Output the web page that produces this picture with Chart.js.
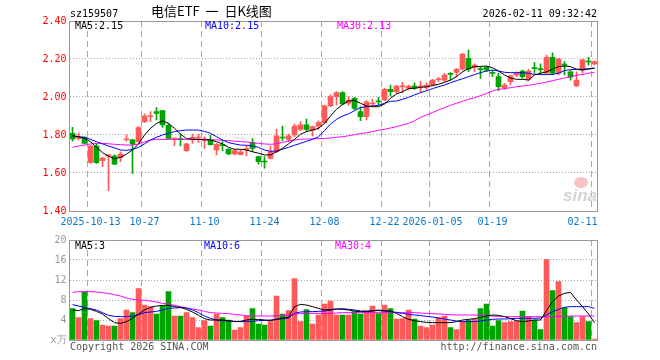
<!DOCTYPE html>
<html><head><meta charset="utf-8">
<script src="https://cdn.jsdelivr.net/npm/chart.js@4/dist/chart.umd.min.js"></script>
<style>
html,body{margin:0;padding:0;background:#fff;}
#wrap{position:relative;width:660px;height:360px;overflow:hidden;font-family:"DejaVu Sans Mono",monospace;font-size:10px;color:#000;}
.t{position:absolute;white-space:pre;line-height:12px;}
canvas{position:absolute;left:0;}
</style></head><body>
<div id="wrap">
<canvas id="pc" width="660" height="235" style="top:0px"></canvas>
<canvas id="vc" width="660" height="132" style="top:228px"></canvas>
<div class="t" style="left:70px;top:8px">sz159507</div>
<div class="t" style="left:151px;top:3px;font-family:'Noto Sans CJK SC';font-size:13px;line-height:16px;word-spacing:3px">电信ETF 一 日K线图</div>
<div class="t" style="right:63px;top:8px">2026-02-11 09:32:42</div>
<div class="t" style="left:75px;top:20px;color:#000">MA5:2.15</div>
<div class="t" style="left:205px;top:20px;color:#0000ff">MA10:2.15</div>
<div class="t" style="left:337px;top:20px;color:#ff00ff">MA30:2.13</div>
<div class="t" style="left:75px;top:240px;color:#000">MA5:3</div>
<div class="t" style="left:204px;top:240px;color:#0000ff">MA10:6</div>
<div class="t" style="left:335px;top:240px;color:#ff00ff">MA30:4</div>
<div class="t" style="left:70px;top:341px;color:#555">Copyright 2026 SINA.COM</div>
<div class="t" style="right:63px;top:341px;color:#555">http://finance.sina.com.cn</div>
<div style="position:absolute;left:574px;top:177px;width:14px;height:11px;border-radius:50%;background:#f6c4c4;"></div>
<div class="t" style="left:563px;top:187px;font-family:'Liberation Sans';font-style:italic;font-weight:bold;font-size:17px;line-height:18px;color:#d4d4d4">sina</div>
</div>
<script>
const dates = ['2025-09-30','2025-10-09','2025-10-10','2025-10-13','2025-10-14','2025-10-15','2025-10-16','2025-10-20','2025-10-21','2025-10-22',
'2025-10-23','2025-10-24','2025-10-27','2025-10-28','2025-10-29','2025-10-30','2025-10-31','2025-11-03','2025-11-04','2025-11-05',
'2025-11-06','2025-11-07','2025-11-10','2025-11-11','2025-11-12','2025-11-13','2025-11-14','2025-11-17','2025-11-18','2025-11-19',
'2025-11-20','2025-11-21','2025-11-24','2025-11-25','2025-11-26','2025-11-27','2025-11-28','2025-12-01','2025-12-02','2025-12-03',
'2025-12-04','2025-12-05','2025-12-08','2025-12-09','2025-12-10','2025-12-11','2025-12-12','2025-12-15','2025-12-16','2025-12-17',
'2025-12-18','2025-12-19','2025-12-22','2025-12-23','2025-12-24','2025-12-25','2025-12-26','2025-12-29','2025-12-30','2025-12-31',
'2026-01-05','2026-01-06','2026-01-07','2026-01-08','2026-01-09','2026-01-12','2026-01-13','2026-01-14','2026-01-15','2026-01-16',
'2026-01-19','2026-01-20','2026-01-21','2026-01-22','2026-01-23','2026-01-26','2026-01-27','2026-01-28','2026-01-29','2026-01-30',
'2026-02-02','2026-02-03','2026-02-04','2026-02-05','2026-02-06','2026-02-09','2026-02-10','2026-02-11'];

const openP = [1.809,1.782,1.788,1.656,1.742,1.665,1.688,1.689,1.682,1.775,
1.774,1.765,1.870,1.896,1.923,1.928,1.851,1.779,1.781,1.718,
1.774,1.784,1.774,1.774,1.721,1.749,1.725,1.700,1.696,1.721,
1.760,1.686,1.662,1.677,1.712,1.788,1.777,1.800,1.830,1.853,
1.826,1.847,1.865,1.953,2.002,2.023,1.967,1.993,1.923,1.896,
1.963,1.977,1.984,2.040,2.028,2.053,2.046,2.058,2.053,2.051,
2.063,2.091,2.089,2.123,2.130,2.146,2.204,2.156,2.147,2.156,
2.126,2.107,2.046,2.081,2.116,2.137,2.093,2.151,2.147,2.125,
2.209,2.125,2.170,2.133,2.058,2.142,2.186,2.174];
const highP = [1.840,1.812,1.791,1.745,1.753,1.682,1.697,1.695,1.711,1.800,
1.777,1.844,1.911,1.923,1.944,1.928,1.861,1.785,1.805,1.756,
1.805,1.803,1.791,1.800,1.756,1.765,1.728,1.725,1.721,1.742,
1.781,1.689,1.686,1.742,1.830,1.847,1.805,1.858,1.870,1.884,
1.847,1.875,1.958,2.011,2.028,2.028,2.002,1.998,1.949,1.981,
1.988,1.998,2.046,2.063,2.061,2.077,2.063,2.075,2.081,2.075,
2.093,2.104,2.125,2.128,2.151,2.230,2.247,2.174,2.160,2.160,
2.139,2.125,2.072,2.116,2.133,2.142,2.146,2.181,2.174,2.221,
2.233,2.204,2.186,2.139,2.133,2.198,2.209,2.191];
const lowP = [1.768,1.774,1.753,1.651,1.651,1.633,1.507,1.644,1.660,1.768,
1.598,1.761,1.865,1.870,1.879,1.840,1.779,1.744,1.742,1.714,
1.756,1.760,1.730,1.746,1.695,1.718,1.696,1.695,1.695,1.690,
1.712,1.647,1.625,1.674,1.707,1.770,1.765,1.791,1.823,1.818,
1.795,1.830,1.861,1.949,1.958,1.958,1.956,1.932,1.875,1.879,
1.949,1.958,1.981,2.005,2.019,2.023,2.037,2.040,2.028,2.040,
2.058,2.081,2.081,2.089,2.107,2.142,2.133,2.133,2.098,2.133,
2.107,2.033,2.040,2.063,2.107,2.098,2.086,2.125,2.121,2.121,
2.116,2.116,2.116,2.089,2.054,2.125,2.168,2.168];
const closeP = [1.779,1.786,1.756,1.742,1.654,1.679,1.695,1.647,1.700,1.778,
1.753,1.839,1.900,1.898,1.914,1.853,1.782,1.782,1.775,1.753,
1.788,1.786,1.779,1.749,1.751,1.744,1.700,1.718,1.711,1.728,
1.730,1.660,1.658,1.712,1.795,1.784,1.795,1.847,1.853,1.830,
1.844,1.865,1.953,2.002,2.023,1.963,1.984,1.940,1.896,1.975,
1.967,1.974,2.040,2.028,2.058,2.056,2.058,2.046,2.056,2.063,
2.089,2.093,2.116,2.119,2.146,2.226,2.146,2.168,2.144,2.142,
2.124,2.054,2.063,2.111,2.128,2.107,2.137,2.149,2.144,2.209,
2.125,2.200,2.168,2.104,2.089,2.195,2.184,2.186];

const ma5P = [1.797,1.791,1.782,1.765,1.735,1.707,1.689,1.675,1.682,1.700,
1.721,1.753,1.800,1.835,1.861,1.874,1.861,1.835,1.805,1.781,
1.777,1.777,1.774,1.774,1.765,1.753,1.735,1.725,1.725,1.721,
1.712,1.704,1.695,1.695,1.712,1.730,1.753,1.777,1.804,1.818,
1.826,1.835,1.861,1.900,1.935,1.961,1.979,1.982,1.967,1.953,
1.949,1.949,1.963,1.993,2.016,2.028,2.044,2.046,2.051,2.054,
2.060,2.067,2.077,2.089,2.107,2.133,2.149,2.160,2.161,2.163,
2.154,2.137,2.116,2.100,2.093,2.093,2.089,2.116,2.125,2.132,
2.146,2.160,2.163,2.160,2.146,2.142,2.147,2.151];
const ma10P = [1.795,1.791,1.788,1.777,1.765,1.753,1.742,1.732,1.721,1.719,
1.725,1.735,1.753,1.774,1.788,1.800,1.809,1.818,1.823,1.826,
1.826,1.826,1.819,1.809,1.791,1.774,1.760,1.753,1.747,1.746,
1.742,1.735,1.721,1.714,1.716,1.725,1.735,1.746,1.756,1.767,
1.777,1.791,1.823,1.858,1.882,1.900,1.911,1.928,1.944,1.949,
1.953,1.956,1.967,1.977,1.979,1.988,1.998,2.011,2.023,2.033,
2.044,2.054,2.063,2.075,2.086,2.096,2.107,2.118,2.128,2.137,
2.142,2.137,2.130,2.128,2.128,2.128,2.125,2.119,2.118,2.118,
2.119,2.125,2.139,2.144,2.146,2.146,2.149,2.153];
const ma30P = [1.735,1.742,1.747,1.753,1.756,1.756,1.754,1.751,1.749,1.747,
1.747,1.753,1.763,1.774,1.777,1.777,1.777,1.777,1.777,1.777,
1.777,1.777,1.777,1.775,1.774,1.772,1.770,1.768,1.765,1.763,
1.760,1.756,1.753,1.751,1.754,1.761,1.768,1.774,1.777,1.779,
1.779,1.781,1.782,1.784,1.788,1.791,1.796,1.802,1.807,1.812,
1.818,1.825,1.830,1.837,1.844,1.853,1.861,1.875,1.893,1.905,
1.918,1.932,1.944,1.956,1.967,1.977,1.988,1.996,2.007,2.019,
2.032,2.040,2.044,2.049,2.054,2.058,2.061,2.067,2.072,2.079,
2.086,2.093,2.100,2.107,2.114,2.119,2.125,2.130];

const volume = [6.3,4.5,9.7,4.3,3.9,3.0,2.8,2.8,4.3,6.0,
5.5,10.3,7.0,6.7,5.2,6.8,9.7,4.8,4.8,5.5,
4.5,2.5,3.9,2.8,5.2,4.5,4.0,2.0,2.5,4.8,
6.3,3.2,3.0,3.7,8.8,5.2,5.9,12.3,3.7,6.1,
3.2,5.0,7.2,7.8,5.0,5.0,5.0,5.7,5.2,5.8,
6.8,5.3,7.0,6.3,4.2,4.3,6.0,4.2,2.8,2.5,
3.0,4.5,4.8,2.5,2.1,3.7,4.0,4.2,6.3,7.2,
2.8,3.9,3.5,3.7,3.8,5.8,4.7,4.0,2.1,16.1,
9.9,11.7,6.5,4.7,3.5,4.7,3.7,0.2];
const ma5V = [6.0,5.87,6.27,6.13,5.73,5.2,4.27,3.47,3.33,3.67,
4.33,5.2,6.0,6.53,6.8,6.93,6.93,6.67,6.53,6.13,
5.6,4.93,4.27,4.0,4.0,4.0,3.87,3.67,3.73,4.0,
4.13,4.13,4.0,3.87,4.13,4.4,4.53,6.67,7.13,7.0,
6.67,6.33,6.0,6.13,6.2,6.13,6.0,5.8,5.67,5.67,
5.8,6.0,5.87,5.8,5.33,4.67,4.13,3.87,3.67,3.53,
3.47,3.47,3.47,3.47,3.67,4.0,4.13,4.27,4.53,4.8,
5.0,4.93,4.67,4.27,3.87,3.67,3.8,4.0,4.0,5.87,
7.67,8.8,9.33,9.53,8.0,6.67,5.2,3.47];
const ma10V = [7.07,6.8,6.53,6.27,6.0,5.47,4.93,4.73,4.67,4.67,
4.8,5.07,5.47,5.6,5.73,6.0,6.33,6.4,6.47,6.4,
6.0,5.47,4.8,4.33,4.0,3.87,3.8,3.73,3.67,3.67,
3.73,3.87,3.93,4.0,4.13,4.27,4.4,5.33,5.6,5.67,
5.67,5.73,5.8,5.93,6.2,6.27,6.13,6.0,5.8,5.8,
5.87,5.87,5.8,5.67,5.53,5.33,5.13,5.0,4.87,4.73,
4.6,4.4,4.2,4.0,3.8,3.67,3.67,3.67,3.8,4.0,
4.13,4.2,4.2,4.27,4.33,4.33,4.33,4.33,4.4,5.0,
5.67,6.13,6.53,6.67,6.67,6.67,6.67,6.33];
const ma30V = [9.53,9.67,9.67,9.67,9.6,9.47,9.33,9.07,8.8,8.4,
8.13,8.0,7.93,7.8,7.6,7.33,7.2,6.93,6.67,6.4,
6.2,6.0,5.73,5.47,5.4,5.33,5.27,5.13,5.0,4.87,
4.8,4.8,4.8,4.8,4.8,4.87,5.0,5.2,5.27,5.33,
5.33,5.33,5.27,5.33,5.4,5.47,5.47,5.47,5.47,5.47,
5.47,5.47,5.47,5.47,5.47,5.47,5.47,5.47,5.4,5.33,
5.27,5.2,5.13,5.07,5.0,5.0,5.0,5.0,4.93,4.87,
4.8,4.73,4.73,4.67,4.67,4.67,4.67,4.67,4.67,4.67,
4.67,4.73,4.73,4.8,4.8,4.8,4.8,4.8];

const tickDates = ['2025-10-13','2025-10-27','2025-11-10','2025-11-24','2025-12-08','2025-12-22','2026-01-05','2026-01-19','2026-02-11'];
const tickTexts = ['2025-10-13','10-27','11-10','11-24','12-08','12-22','2026-01-05','01-19','02-11    '];
const priceTicks = {min:1.40, max:2.40, step:0.20};
const volTicks = {min:0, max:20, step:4, zeroLabel:'x万'};

const UP = '#ff5a5a', DOWN = '#00a400';
const GRID = '#a8a8a8', FRAME = '#999999';
const FONT = {family:'DejaVu Sans Mono', size:10};

const barColors = closeP.map((c,i) => c >= openP[i] ? UP : DOWN);
const wickData = lowP.map((l,i) => [l, highP[i]]);
const bodyData = openP.map((o,i) => [o, closeP[i]]);
const tickIndex = new Set(tickDates.map(d => dates.indexOf(d)));

const frame = {
  id:'frame',
  afterDraw(chart){
    const {ctx, chartArea:a} = chart;
    const x0 = Math.floor(a.left)+0.5, y0 = Math.floor(a.top)+0.5;
    const x1 = Math.floor(a.right)+0.5, y1 = Math.floor(a.bottom)+0.5;
    ctx.save();
    ctx.strokeStyle = FRAME; ctx.lineWidth = 1;
    ctx.strokeRect(x0, y0, x1-x0, y1-y0);
    ctx.restore();
  }
};

function xScale(showLabels, h){
  return {
    type:'category',
    offset:true,
    grid:{offset:true, drawTicks:false, lineWidth:1,
      color:(c) => (tickIndex.has(c.index) ? GRID : 'rgba(0,0,0,0)')},
    border:{display:false, dash:[6,4]},
    ticks:{display:showLabels, autoSkip:false, maxRotation:0, minRotation:0, padding:5,
      color:'#0a78cc', font:FONT,
      callback:(v,i) => { const k = tickDates.indexOf(dates[i]); return k >= 0 ? tickTexts[k] : ''; }},
    afterFit(s){ s.height = h; }
  };
}

const lineDs = (label, data, color) => ({type:'line', label, data, borderColor:color, borderWidth:1,
  pointRadius:0, tension:0, fill:false, order:1});

new Chart(document.getElementById('pc'), {
  type:'bar',
  data:{
    labels: dates,
    datasets:[
      lineDs('MA5', ma5P, '#000000'),
      lineDs('MA10', ma10P, '#0000ff'),
      lineDs('MA30', ma30P, '#ff00ff'),
      {type:'bar', label:'body', data: bodyData, backgroundColor: barColors, barThickness:5,
        minBarLength:1, grouped:false, borderWidth:0, order:2},
      {type:'bar', label:'wick', data: wickData, backgroundColor: barColors, barThickness:1,
        grouped:false, borderWidth:0, order:3}
    ]
  },
  options:{
    responsive:false, animation:false, events:[],
    layout:{padding:{top:21, right:62.5, left:0, bottom:0}},
    plugins:{legend:{display:false}, tooltip:{enabled:false}},
    scales:{
      x: xScale(true, 24),
      y:{
        min:priceTicks.min, max:priceTicks.max,
        grid:{drawTicks:false, lineWidth:1,
          color:(c) => (c.index === 0 || c.index === 5 ? 'rgba(0,0,0,0)' : GRID)},
        border:{display:false, dash:[1,2]},
        ticks:{stepSize:priceTicks.step, padding:3, color:'#ff0000', font:FONT,
          callback:(v) => Number(v).toFixed(2)},
        afterFit(s){ s.width = 69.5; }
      }
    }
  },
  plugins:[frame]
});

new Chart(document.getElementById('vc'), {
  type:'bar',
  data:{
    labels: dates,
    datasets:[
      lineDs('MA5', ma5V, '#000000'),
      lineDs('MA10', ma10V, '#0000ff'),
      lineDs('MA30', ma30V, '#ff00ff'),
      {type:'bar', label:'volume', data: volume, backgroundColor: barColors, barThickness:5,
        grouped:false, borderWidth:0, order:2}
    ]
  },
  options:{
    responsive:false, animation:false, events:[],
    layout:{padding:{top:12, right:62.5, left:0, bottom:0}},
    plugins:{legend:{display:false}, tooltip:{enabled:false}},
    scales:{
      x: xScale(false, 20),
      y:{
        min:volTicks.min, max:volTicks.max,
        grid:{drawTicks:false, lineWidth:1,
          color:(c) => (c.index === 0 || c.index === 5 ? 'rgba(0,0,0,0)' : GRID)},
        border:{display:false, dash:[1,2]},
        ticks:{stepSize:volTicks.step, padding:3, color:'#999999', font:FONT,
          callback:(v) => (v === 0 ? volTicks.zeroLabel : String(v))},
        afterFit(s){ s.width = 69.5; }
      }
    }
  },
  plugins:[frame]
});
</script>
</body></html>
